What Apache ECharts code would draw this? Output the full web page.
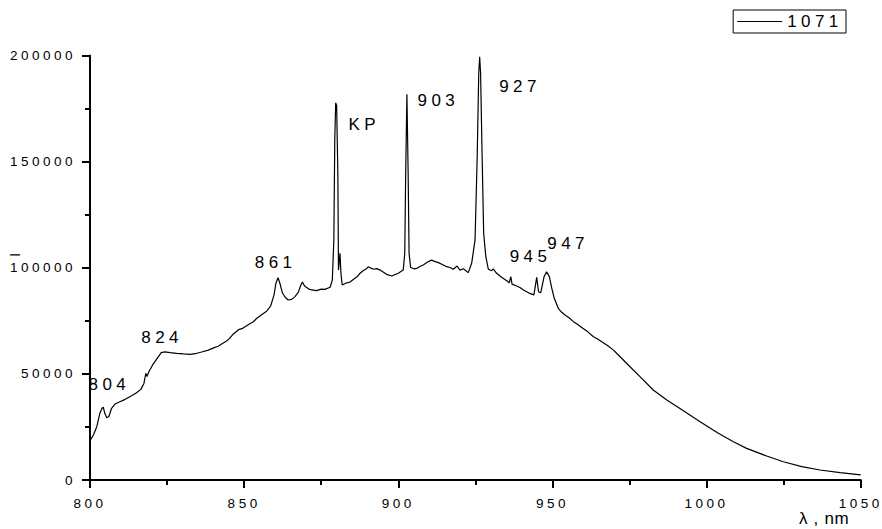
<!DOCTYPE html>
<html>
<head>
<meta charset="utf-8">
<script src="https://cdn.jsdelivr.net/npm/echarts@6/dist/echarts.min.js"></script>
<style>
  html, body { margin: 0; padding: 0; background: #ffffff; }
  #chart { width: 882px; height: 529px; }
  /* spaced-out lettering used throughout the plot */
  #chart text { letter-spacing: 0.26em; }
</style>
</head>
<body>
<div id="chart"></div>
<script>
// Emission spectrum, sample 1071: wavelength (nm) and intensity (counts)
const wavelength = [
  800.0, 801.1, 802.2, 803.2, 803.9, 804.3, 804.8, 805.4, 806.1, 807.0,
  808.1, 809.7, 811.4, 813.5, 815.1, 816.5, 817.5, 818.1, 818.5, 819.1,
  820.3, 821.8, 823.1, 824.3, 826.0, 828.1, 830.3, 832.4, 834.1, 836.2,
  838.4, 840.5, 841.6, 842.7, 844.3, 845.2, 846.5, 848.4, 849.3, 850.3,
  852.1, 853.0, 854.1, 856.0, 857.3, 858.6, 859.7, 860.3, 861.0, 861.6,
  862.4, 863.3, 864.3, 865.4, 866.5, 867.6, 868.3, 868.9, 869.6, 871.2,
  872.4, 873.5, 875.0, 876.2, 877.9, 878.6, 879.1, 879.4, 879.7, 880.0,
  880.4, 880.6, 881.1, 881.4, 881.8, 883.3, 884.4, 885.4, 886.5, 887.6,
  888.7, 889.8, 890.3, 891.1, 891.9, 893.0, 894.1, 895.2, 896.2, 897.9,
  899.0, 900.0, 901.6, 902.1, 902.4, 902.8, 903.2, 903.5, 904.0, 905.0,
  906.0, 907.0, 908.1, 909.5, 910.8, 912.0, 913.0, 914.3, 915.7, 916.8,
  917.8, 919.1, 920.0, 921.1, 922.7, 923.8, 924.9, 925.6, 926.1, 926.4,
  926.7, 927.2, 927.7, 928.4, 929.2, 930.3, 930.8, 931.9, 933.5, 935.2,
  936.0, 936.5, 936.9, 938.4, 939.6, 940.6, 942.7, 944.0, 944.9, 945.5,
  946.2, 947.3, 948.1, 949.0, 949.8, 950.6, 951.9, 953.0, 954.1, 955.5,
  956.8, 958.0, 959.5, 961.5, 963.3, 964.8, 966.5, 968.1, 969.8, 971.4,
  974.6, 978.4, 982.7, 987.1, 992.5, 997.9, 1003.8, 1008.7, 1013.0, 1019.5,
  1024.9, 1030.9, 1036.8, 1043.3, 1050.0
];
const intensity = [
  18500, 21200, 25100, 31400, 33800, 34300, 31400, 29400, 29800, 33800,
  35800, 36900, 38000, 39700, 41100, 42700, 45500, 50300, 48700, 51000,
  54200, 57300, 60000, 60400, 60000, 59700, 59400, 59200, 59500, 60300,
  61200, 62500, 63000, 64100, 65500, 66600, 68800, 71000, 71300, 72200,
  73800, 74600, 76200, 78200, 79500, 82000, 87200, 92700, 95300, 92700,
  88200, 86100, 84800, 85100, 86400, 88500, 91500, 93300, 91400, 89800,
  89500, 89200, 89900, 89800, 90800, 94200, 113100, 160200, 177700, 176500,
  144500, 98900, 106800, 97400, 91900, 92900, 93300, 94500, 95600, 97400,
  98700, 99700, 100500, 99800, 99300, 99600, 98900, 97900, 96900, 96100,
  96800, 97400, 98900, 106800, 144500, 181700, 144500, 106800, 100200, 99500,
  99700, 100600, 101300, 102700, 103600, 102900, 102400, 101500, 100500, 100100,
  99300, 100800, 98900, 99500, 97700, 102100, 113100, 152300, 191600, 199400,
  191600, 152300, 116200, 105200, 99300, 98600, 99500, 97400, 95500, 93900,
  92900, 95800, 92300, 91400, 90600, 89500, 87900, 87200, 95500, 88700,
  88200, 95800, 98100, 95800, 90300, 85600, 80900, 79000, 77700, 76300,
  74600, 73500, 71900, 69800, 67500, 66300, 64700, 63100, 61200, 58900,
  54200, 48700, 42400, 37700, 32600, 27500, 22000, 18000, 14900, 11300,
  8600, 6300, 4700, 3500, 2400
];
const xTicks = [800, 850, 900, 950, 1000, 1050];
const yTicks = [0, 50000, 100000, 150000, 200000];
const seriesName = '1071';
const xName = 'λ , nm';
const yName = 'I';

// Peak annotations: text and the (wavelength, intensity) point it is centred on
const peakNames = ['804', '824', '861', 'KP', '903', '927', '945', '947'];
const peakAnchors = [
  [806.3, 44900], [823.4, 67200], [860.2, 102700], [889.0, 167700],
  [913.0, 179000], [939.5, 185300], [942.9, 105200], [955.1, 111200]
];

const FONT = "'Liberation Sans', Arial, sans-serif";
const INK = '#000000';

const points = wavelength.map((w, i) => [w, intensity[i]]);

const el = document.getElementById('chart');
const chart = echarts.init(el, null, { renderer: 'svg' });

chart.setOption({
  animation: false,
  backgroundColor: '#ffffff',
  grid: {
    left: 90, right: 21.3, top: 55.5, bottom: 49,
    containLabel: false,
    outerBoundsMode: 'none'
  },
  legend: {
    data: [{ name: seriesName, icon: 'rect' }],
    right: 36, top: 10,
    orient: 'horizontal',
    padding: [3, 21, 3, 4],
    itemWidth: 45, itemHeight: 1,
    itemStyle: { color: INK, borderWidth: 0 },
    borderColor: INK, borderWidth: 1,
    backgroundColor: '#ffffff',
    selectedMode: false,
    textStyle: { color: INK, fontFamily: FONT, fontSize: 17 }
  },
  xAxis: {
    type: 'value',
    min: xTicks[0], max: xTicks[xTicks.length - 1],
    interval: xTicks[1] - xTicks[0],
    axisLine: { show: true, onZero: false, lineStyle: { color: INK, width: 2 } },
    axisTick: { show: true, inside: false, length: 8, lineStyle: { color: INK, width: 2 } },
    minorTick: { show: true, splitNumber: 2, length: 5, lineStyle: { color: INK, width: 2 } },
    splitLine: { show: false },
    minorSplitLine: { show: false },
    axisLabel: {
      color: INK, fontFamily: FONT, fontSize: 13.5, margin: 16,
      formatter: v => String(v)
    }
  },
  yAxis: {
    type: 'value',
    min: yTicks[0], max: yTicks[yTicks.length - 1],
    interval: yTicks[1] - yTicks[0],
    axisLine: { show: true, onZero: false, lineStyle: { color: INK, width: 2 } },
    axisTick: { show: true, inside: false, length: 8, lineStyle: { color: INK, width: 2 } },
    minorTick: { show: true, splitNumber: 2, length: 5, lineStyle: { color: INK, width: 2 } },
    splitLine: { show: false },
    minorSplitLine: { show: false },
    axisLabel: {
      color: INK, fontFamily: FONT, fontSize: 13.5, margin: 14,
      formatter: v => String(v)
    }
  },
  series: [{
    name: seriesName,
    type: 'line',
    data: points,
    symbol: 'none',
    showSymbol: false,
    smooth: false,
    lineStyle: { color: INK, width: 1.2 },
    itemStyle: { color: INK },
    emphasis: { disabled: true },
    markPoint: {
      silent: true,
      symbol: 'circle',
      symbolSize: 0,
      itemStyle: { color: 'transparent' },
      label: {
        show: true, position: 'inside', formatter: '{b}',
        color: INK, fontFamily: FONT, fontSize: 17
      },
      data: peakNames.map((n, i) => ({ name: n, coord: peakAnchors[i] }))
    }
  }],
  graphic: [
    {
      type: 'text', x: 799, y: 518, silent: true,
      style: { text: xName, fill: INK, font: '17px ' + FONT, align: 'left', verticalAlign: 'middle' }
    },
    {
      type: 'text', x: 14, y: 253, rotation: Math.PI / 2, silent: true,
      style: { text: yName, fill: INK, font: '15px ' + FONT, align: 'center', verticalAlign: 'middle' }
    }
  ]
});

// the axis unit reads with normal spacing
function tightenAxisUnit() {
  el.querySelectorAll('text').forEach(t => {
    if (t.textContent === xName) t.style.letterSpacing = '0.04em';
  });
}
tightenAxisUnit();
chart.on('finished', tightenAxisUnit);
</script>
</body>
</html>
